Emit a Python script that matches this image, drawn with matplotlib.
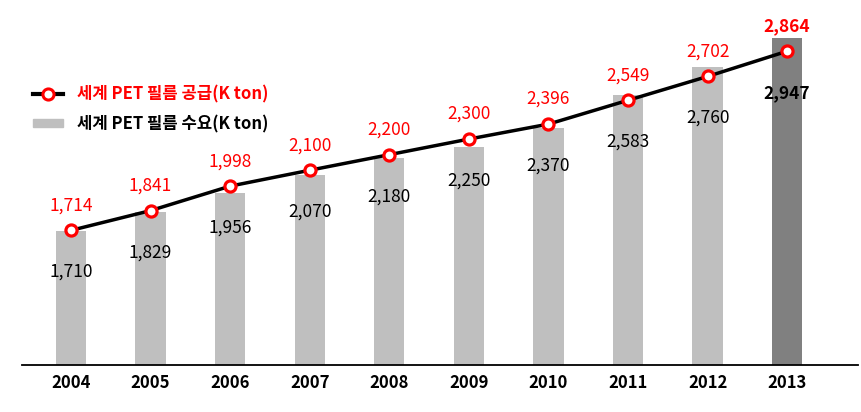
import matplotlib
matplotlib.use("Agg")
import matplotlib.pyplot as plt
import numpy as np
from matplotlib.patches import Patch

years = ["2004", "2005", "2006", "2007", "2008", "2009", "2010", "2011", "2012", "2013"]
supply = [1714, 1841, 1998, 2100, 2200, 2300, 2396, 2549, 2702, 2864]
demand = [1710, 1829, 1956, 2070, 2180, 2250, 2370, 2583, 2760, 2947]
supply_label = "세계 PET 필름 공급(K ton)"
demand_label = "세계 PET 필름 수요(K ton)"

plt.rcParams['font.family'] = ['Noto Sans CJK KR', 'DejaVu Sans']

fig = plt.figure(figsize=(8.62, 4.12), dpi=100)
ax = fig.add_axes([22/862, 47/412, 836/862, 335/412])

x = np.arange(len(years))
colors = ["#BFBFBF"] * (len(years) - 1) + ["#808080"]
ax.bar(x, demand, width=0.38, color=colors, zorder=1)
ax.plot(x, supply, color="black", lw=2.5, marker="o", ms=8, mfc="white",
        mec="#FF0000", mew=2.3, zorder=3)

# value labels: supply above the line, demand below it (last year in bold)
last = len(years) - 1
for i in range(len(years)):
    w = "bold" if i == last else "normal"
    ax.annotate(f"{supply[i]:,}", (x[i], supply[i]), xytext=(0, 18),
                textcoords="offset points", ha="center", va="center",
                color="#FF0000", fontsize=12.5, fontweight=w)
    ax.annotate(f"{demand[i]:,}", (x[i], supply[i]), xytext=(0, -30),
                textcoords="offset points", ha="center", va="center",
                color="black", fontsize=12.5, fontweight=w)

ax.set_xlim(-0.616, 9.89)
ax.set_ylim(850, 3000)
ax.set_yticks([])
ax.set_xticks(x, years, fontsize=12, fontweight="bold")
ax.tick_params(axis="x", length=0, pad=6.5)
for s in ["top", "left", "right"]:
    ax.spines[s].set_visible(False)
ax.spines["bottom"].set_linewidth(1.3)

handles = [
    plt.Line2D([], [], color="black", lw=3, marker="o", ms=8, mfc="white",
               mec="#FF0000", mew=2.2),
    Patch(color="#BFBFBF"),
]
leg = fig.legend(handles, [supply_label, demand_label], loc="upper left",
                 bbox_to_anchor=(33/862, 1 - 85/412), frameon=False,
                 borderpad=0, borderaxespad=0,
                 fontsize=12, handlelength=1.8, handleheight=0.35,
                 labelspacing=0.72, handletextpad=0.85)
for t, c in zip(leg.get_texts(), ["#FF0000", "black"]):
    t.set_color(c)
    t.set_fontweight("bold")

fig.savefig("out.png", dpi=100)
